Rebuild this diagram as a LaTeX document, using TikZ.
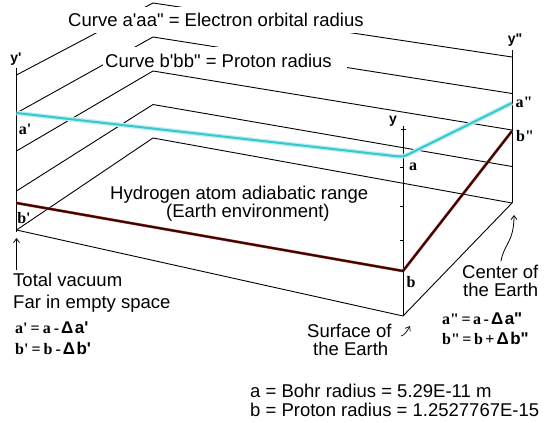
\documentclass[tikz,border=0pt]{standalone}
\usepackage{fontspec}
\setmainfont{Liberation Sans}[Ligatures=TeXOff]
\newfontfamily\lserif{Liberation Serif}[Ligatures=TeXOff]
\usetikzlibrary{arrows.meta}
\definecolor{cyanc}{RGB}{55,200,205}
\definecolor{cyanh}{RGB}{185,238,242}
\definecolor{redh}{RGB}{190,60,50}
\definecolor{redc}{RGB}{50,8,5}
\newcommand{\fser}{\lserif\bfseries\fontsize{16}{18}\selectfont}
\newcommand{\fsan}{\normalfont\bfseries\fontsize{17}{19}\selectfont}
\begin{document}
\begin{tikzpicture}[x=1pt,y=-1pt,
  gline/.style={line width=0.9pt, black},
  txt/.style={inner sep=0pt, anchor=base west, font=\fontsize{18.5}{20}\selectfont},
  lblserif/.style={inner sep=0pt, font=\lserif\bfseries\fontsize{16}{18}\selectfont},
  lblsans/.style={inner sep=0pt, font=\bfseries\fontsize{14}{16}\selectfont},
  formula/.style={inner sep=0pt, anchor=base west},
  arr/.style={line width=0.8pt, -{Straight Barb[length=4pt,width=6pt]}}
]
\useasboundingbox (0,0) rectangle (549,423);
\fill[white] (0,0) rectangle (549,423);
% plane corners
\coordinate (L0) at (16.5,75);  \coordinate (B0) at (153,3);     \coordinate (R0) at (512,57);
\coordinate (L1) at (16.5,113); \coordinate (B1) at (153,37);    \coordinate (R1) at (512,93.5);
\coordinate (L2) at (16.5,151); \coordinate (B2) at (153,71);    \coordinate (R2) at (512,130);
\coordinate (L3) at (16.5,191); \coordinate (B3) at (153,104.5); \coordinate (R3) at (512,166.5);
\coordinate (L4) at (16.5,230); \coordinate (B4) at (153,138);   \coordinate (R4) at (512,203);
\coordinate (F) at (403,316);
% axes
\coordinate (ylt) at (16.5,68);  \coordinate (ylb) at (16.5,232);
\coordinate (yrt) at (512,50);
\coordinate (yft) at (403,126);
% curves
\coordinate (ap) at (16.5,113); \coordinate (a) at (403,157); \coordinate (app) at (512,103);
\coordinate (bp) at (16.5,203); \coordinate (b) at (403,271); \coordinate (bpp) at (512,131);
% grid
\foreach \k in {0,...,4} \draw[gline] (L\k) -- (B\k) -- (R\k);
\draw[gline] (L4) -- (F) -- (R4);
\draw[gline] (ylt) -- (ylb);
\draw[gline] (yrt) -- (R4);
\draw[gline] (yft) -- (F);
\foreach \t in {167,206,240} \draw[line width=0.8pt] (399.5,\t) -- (403,\t);
\draw[line width=0.8pt] (401,129) -- (405.5,129);
% curves
\draw[cyanh, line width=4.5pt, rounded corners=5pt] (ap) -- (a) -- (app);
\draw[cyanc, line width=2pt, rounded corners=5pt] (ap) -- (a) -- (app);
\draw[redh, line width=2.8pt] (bp) -- (b) -- (bpp);
\draw[redc, line width=1.9pt] (bp) -- (b) -- (bpp);
% white boxes behind top captions
\fill[white] (66,7) rectangle (375,33);
\fill[white] (103,47) rectangle (347,69);
% captions
\node[txt] (c1) at (68,27) {Curve a'aa" = Electron orbital radius};
\node[txt] (c2) at (105,67) {Curve b'bb" = Proton radius};
\node[txt] (h1) at (110,199) {Hydrogen atom adiabatic range};
\node[txt] (h2) at (166,217) {(Earth environment)};
\node[txt] (tv) at (13,286) {Total vacuum};
\node[txt] (fe) at (13,308) {Far in empty space};
\node[txt] (ce1) at (462,278) {Center of};
\node[txt] (ce2) at (463,296.5) {the Earth};
\node[txt] (se1) at (307,337) {Surface of};
\node[txt] (se2) at (313,355) {the Earth};
\node[txt] (br) at (250,397) {a = Bohr radius = 5.29E-11 m};
\node[txt] (pr) at (250,416) {b = Proton radius = 1.2527767E-15};
% formulas
\node[formula] (f1) at (15,333) {\fser a'\hspace{3pt}=\hspace{3pt}a\hspace{3pt}-\hspace{2pt}{\fsan Δ\hspace{1.5pt}a'}};
\node[formula] (f2) at (15,354) {\fser b'\hspace{3pt}=\hspace{3pt}b\hspace{3pt}-\hspace{2pt}{\fsan Δ\hspace{1.5pt}b'}};
\node[formula] (f3) at (442,324) {\fser a"\hspace{2.5pt}=\hspace{2.5pt}a\hspace{2.5pt}-\hspace{2pt}{\fsan Δ\hspace{1.5pt}a"}};
\node[formula] (f4) at (442,344) {\fser b"\hspace{2.5pt}=\hspace{2.5pt}b\hspace{2.5pt}+\hspace{2pt}{\fsan Δ\hspace{1.5pt}b"}};
% point labels
\node[lblsans] (lyp) at (16,59) {y'};
\node[lblsans] (lypp) at (515,40) {y"};
\node[lblsans] (ly) at (393,121) {y};
\node[lblserif] (lap) at (25,129) {a'};
\node[lblserif] (lbp) at (24,218) {b'};
\node[lblserif] (la) at (413,167) {a};
\node[lblserif] (lb) at (411,282) {b};
\node[lblserif] (lapp) at (524,102) {a"};
\node[lblserif] (lbpp) at (525,136) {b"};
% arrows
\coordinate (vacA) at (16.5,270); \coordinate (vacB) at (16.5,238);
\draw[arr] (vacA) -- (vacB);
\coordinate (cenA) at (501,261); \coordinate (cenB) at (514,215);
\draw[arr] (cenA) .. controls (504,244) and (514,242) .. (cenB);
\coordinate (surA) at (401,336); \coordinate (surB) at (410,326);
\draw[arr, line width=0.7pt] (surA) .. controls (405,335) and (407,331) .. (surB);
\end{tikzpicture}
\end{document}
